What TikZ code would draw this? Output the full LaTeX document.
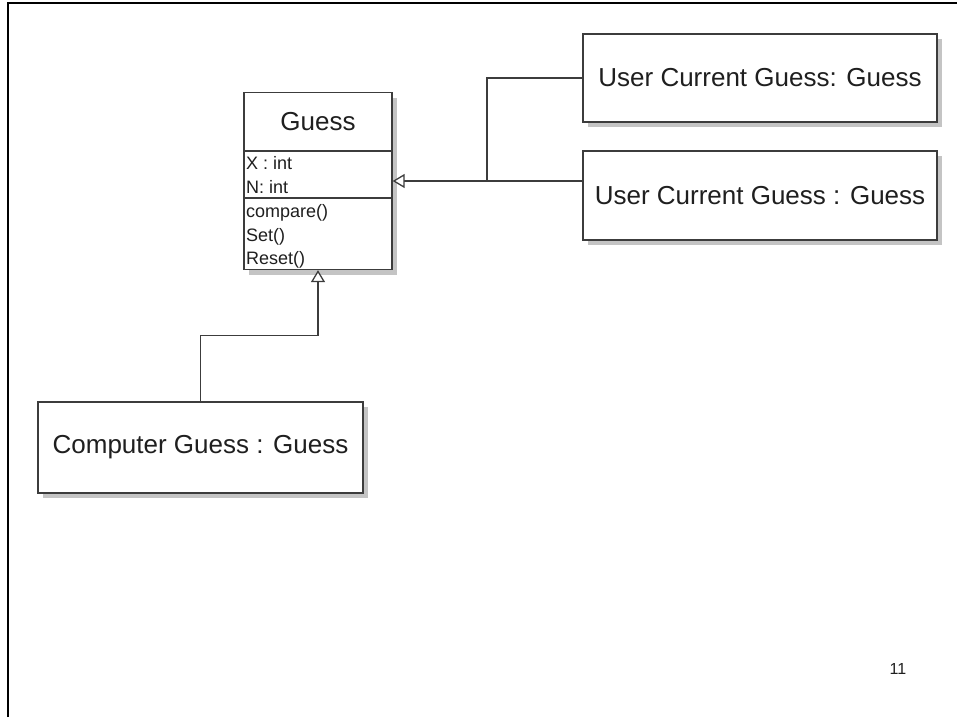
\documentclass[tikz,border=0pt]{standalone}
\usepackage{fontspec}
\setmainfont{Liberation Sans}
\usetikzlibrary{arrows.meta, shadows, calc, positioning}
\definecolor{umlgray}{HTML}{3C3C3C}
\definecolor{shadowgray}{HTML}{C4C4C4}
\tikzset{
    objbox/.style args={#1 #2}{
        draw=umlgray, line width=1.3pt, fill=white, rectangle, inner sep=0pt,
        minimum width=#1, minimum height=#2, text=black!88,
        font=\fontsize{26}{30}\selectfont,
        drop shadow={shadow xshift=5pt, shadow yshift=-5pt, fill=shadowgray, opacity=1}
    },
    objbox/.default={148pt 177pt}
}
\tikzset{
    member/.style={anchor=base west, inner sep=0pt, text=black!88, font=\fontsize{18}{20}\selectfont},
    umlline/.style={draw=umlgray, line width=1.3pt},
    gen/.style={umlline, -{Triangle[length=12pt, width=14pt, fill=white]}}
}

\begin{document}
\begin{tikzpicture}[x=1pt, y=-1pt]
    \useasboundingbox (0,0) rectangle (957,717);
    % slide frame
    \draw[line width=2.7pt] (8,717) -- (8,3) -- (957,3);
    % class Guess
    \node[objbox] (guess) at (318,181) {};
    \node[inner sep=0pt, text=black!88, font=\fontsize{26}{30}\selectfont] (gname) at (318,122) {Guess};
    \draw[umlline] (guess.west |- 0,151) -- (guess.east |- 0,151);
    \draw[umlline] (guess.west |- 0,198) -- (guess.east |- 0,198);
    \node[member] (mx) at (246,169) {X : int};
    \node[member] (mn) at (246,193) {N: int};
    \node[member] (mcmp) at (246,217) {compare()};
    \node[member] (mset) at (246,241) {Set()};
    \node[member] (mreset) at (246,264) {Reset()};
    % objects
    \node[objbox=354pt 88pt] (user1) at (760,78) {User Current Guess: Guess};
    \node[objbox=354pt 89pt] (user2) at (760,195.5) {User Current Guess : Guess};
    \node[objbox=325pt 91pt] (comp) at (200.5,447.5) {Computer Guess : Guess};
    % generalisations
    \coordinate (j1) at (487,181);
    \draw[umlline] (user1.west) -| (j1);
    \draw[gen] (user2.west |- guess.east) -- (guess.east);
    \draw[gen] (comp.north) |- ($(comp.north)!.5!(guess.south)$) -| (guess.south);
    \node[inner sep=0pt, text=black!88, font=\fontsize{16}{18}\selectfont] (pnum) at (898,669) {11};
\end{tikzpicture}
\end{document}
